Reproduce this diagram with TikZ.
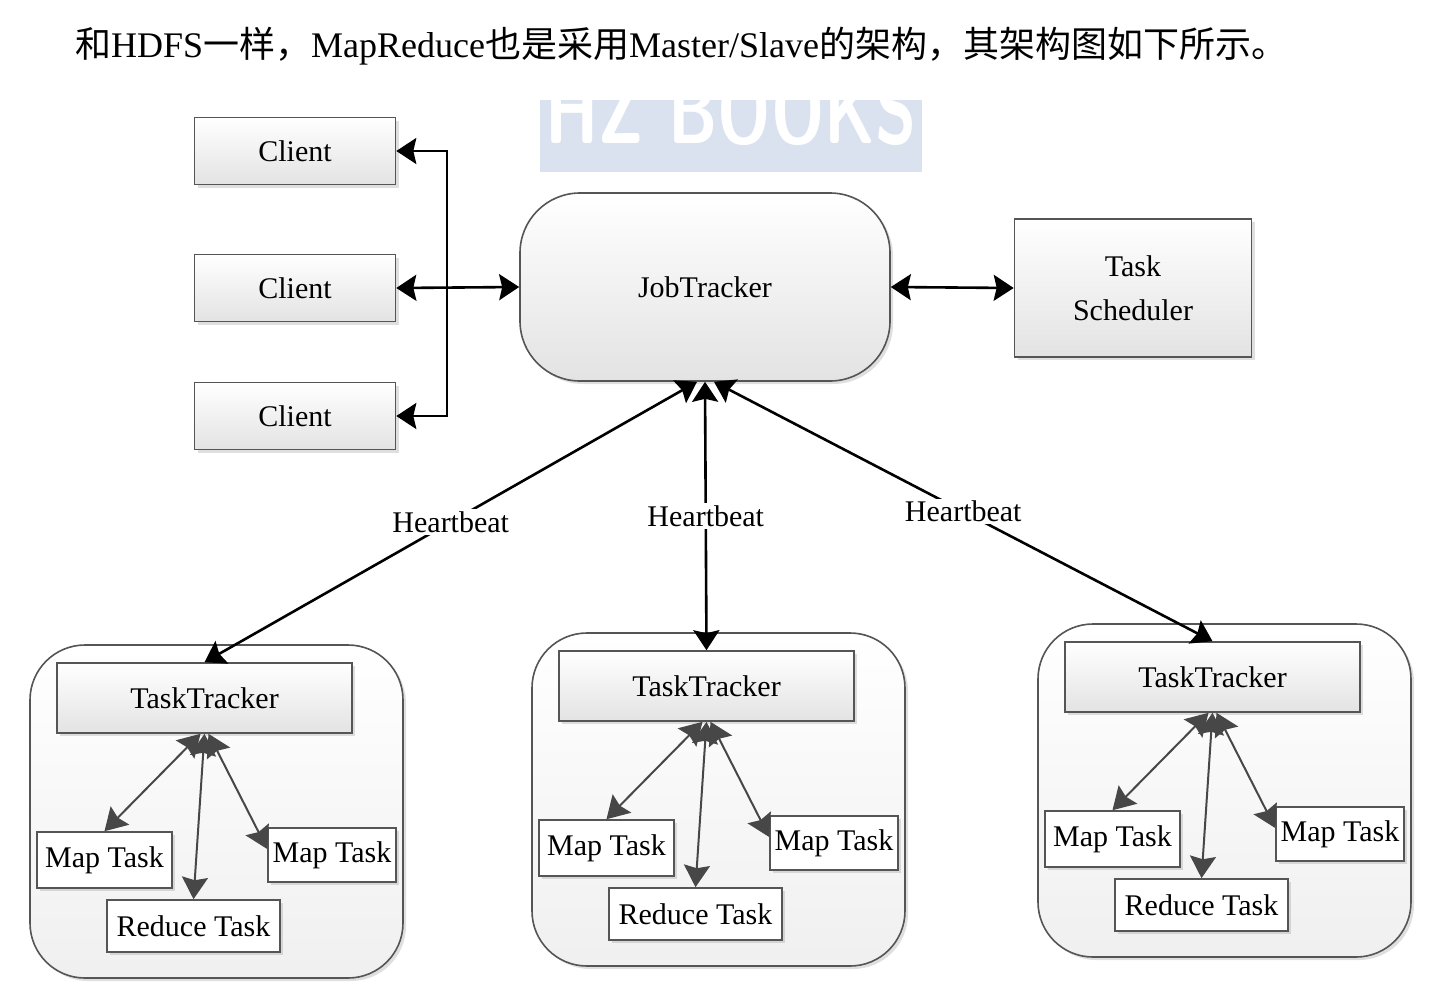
\documentclass[tikz,border=0pt]{standalone}
\usepackage{fontspec}
\setmainfont{Liberation Serif}
\newfontfamily\cjk{Noto Sans CJK SC}
\usetikzlibrary{arrows.meta,shadows}

\definecolor{wmblue}{RGB}{218,226,240}
\definecolor{edgegray}{RGB}{85,85,85}

\tikzset{
  shade box/.style={draw=edgegray, line width=1.6pt, top color=white, bottom color=black!11,
    drop shadow={shadow xshift=3pt,shadow yshift=-3pt,opacity=0.25},
    font=\fontsize{30}{44}\selectfont, inner sep=0pt, align=center},
  clientbox/.style={shade box, minimum width=201pt, minimum height=67pt},
  taskbox/.style={shade box, top color=white, bottom color=white},
  grpbox/.style={shade box, rounded corners=55pt, minimum width=373pt, minimum height=333pt,
    top color=white, bottom color=black!6},
  hb/.style={fill=white, inner sep=2pt, font=\fontsize{30}{34}\selectfont},
  tip/.style={line width=2.6pt, -{Stealth[length=20pt,width=26pt,inset=3pt]}},
  both/.style={line width=2.6pt, {Stealth[length=20pt,width=26pt,inset=3pt]}-{Stealth[length=20pt,width=26pt,inset=3pt]}},
  sub/.style={draw=black!72, line width=2pt, {Stealth[length=22pt,width=26pt,inset=3pt]}-{Stealth[length=22pt,width=26pt,inset=3pt]}}
}

\begin{document}
\begin{tikzpicture}[x=1pt,y=1pt]
\useasboundingbox (0,0) rectangle (1444,-994);

% title line
\node[anchor=base west, inner sep=0pt, font=\fontsize{36}{40}\selectfont] (title) at (75,-57)
  {{\cjk 和}HDFS{\cjk 一样，}MapReduce{\cjk 也是采用}Master/Slave{\cjk 的架构，其架构图如下所示。}};

% watermark
\begin{scope}
\clip (540,-100) rectangle (922,-174);
\fill[wmblue] (540,-95) rectangle (922,-172);
\node[white, font=\fontsize{96}{96}\bfseries\sffamily, xscale=0.7] (mark) at (731,-110) {HZ BOOKS};
\end{scope}

% clients
\node[clientbox] (client1) at (295,-151) {Client};
\node[clientbox] (client2) at (295,-288) {Client};
\node[clientbox] (client3) at (295,-416) {Client};
\coordinate (bus) at (447,-288);

% master side
\node[shade box, rounded corners=60pt, minimum width=370pt, minimum height=188pt] (job) at (705,-287) {JobTracker};
\node[shade box, minimum width=237pt, minimum height=138pt] (sched) at (1133,-288) {Task\\Scheduler};

\draw[tip] (bus) |- (client1.east);
\draw[tip] (bus) |- (client3.east);
\draw[both] (client2.east) -- (job.west);
\draw[both] (job.east) -- (sched.west);

% task trackers
\foreach \i/\dx/\dy in {1/0/0,2/502/12,3/1008/21}{
\begin{scope}[shift={(\dx,\dy)}]
\node[grpbox] (grp\i) at (216.5,-811.5) {};
\node[shade box, minimum width=295pt, minimum height=70pt] (tt\i) at (204.5,-698) {TaskTracker};
\node[taskbox, minimum width=135pt, minimum height=56pt] (mapl\i) at (104.5,-860) {Map Task};
\node[taskbox, minimum width=128pt, minimum height=54pt] (mapr\i) at (332,-855) {Map Task};
\node[taskbox, minimum width=173pt, minimum height=52pt] (red\i) at (193.5,-926) {Reduce Task};
\draw[sub] ([xshift=-4pt]tt\i.south) -- (mapl\i.north);
\draw[sub] (tt\i.south) -- (red\i.north);
\draw[sub] ([xshift=4pt]tt\i.south) -- ([yshift=6pt]mapr\i.west);
\end{scope}
}

% heartbeats
\draw[both] ([xshift=-8pt]job.south) -- node[hb] {Heartbeat} (tt1.north);
\draw[both] (job.south) -- node[hb] {Heartbeat} (tt2.north);
\draw[both] ([xshift=9pt]job.south) -- node[hb] {Heartbeat} (tt3.north);
\end{tikzpicture}
\end{document}
